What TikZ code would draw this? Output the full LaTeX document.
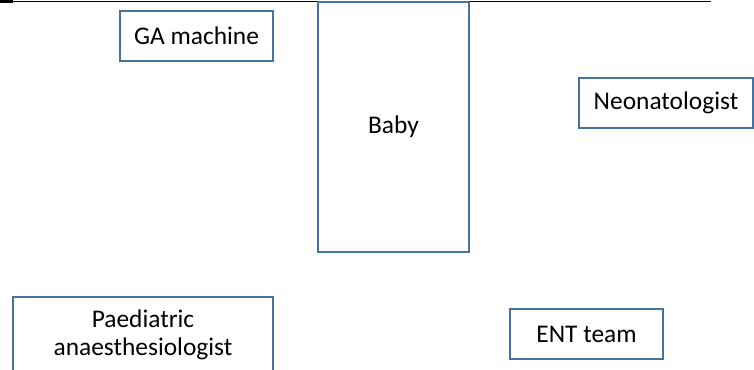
\documentclass[tikz,border=0pt]{standalone}
\usepackage{fontspec}
\setmainfont{Carlito}
\definecolor{boxblue}{RGB}{70,114,160}
\begin{document}
\begin{tikzpicture}[x=1bp,y=-1bp,
  box/.style={draw=boxblue, line width=1.1bp, rectangle, inner sep=0pt,
    font=\fontsize{25.5}{28}\selectfont, text=black, align=center},
  rule/.style={draw=black, line width=1.7bp}]
\useasboundingbox (0,0) rectangle (754,369);
\clip (0,0) rectangle (754,369);
\coordinate (l0) at (0,1.5);
\coordinate (l1) at (711,1.5);
\draw[rule] (l0) -- (l1);
\coordinate (d0) at (0,1.5);
\coordinate (d1) at (13,1.5);
\draw[draw=black, line width=3bp] (d0) -- (d1);
\node[box, minimum width=153bp, minimum height=50bp] (ga) at (196.5,36) {GA machine};
\node[box, minimum width=151bp, minimum height=250bp] (baby) at (393.5,127) {Baby};
\node[box, minimum width=174bp, minimum height=50bp] (neo) at (666,103) {Neonatologist};
\node[box, minimum width=153bp, minimum height=50bp] (ent) at (586.5,334) {ENT team};
\node[box, minimum width=260bp, minimum height=76bp] (pa) at (143,335) {Paediatric\\anaesthesiologist};
\end{tikzpicture}
\end{document}
